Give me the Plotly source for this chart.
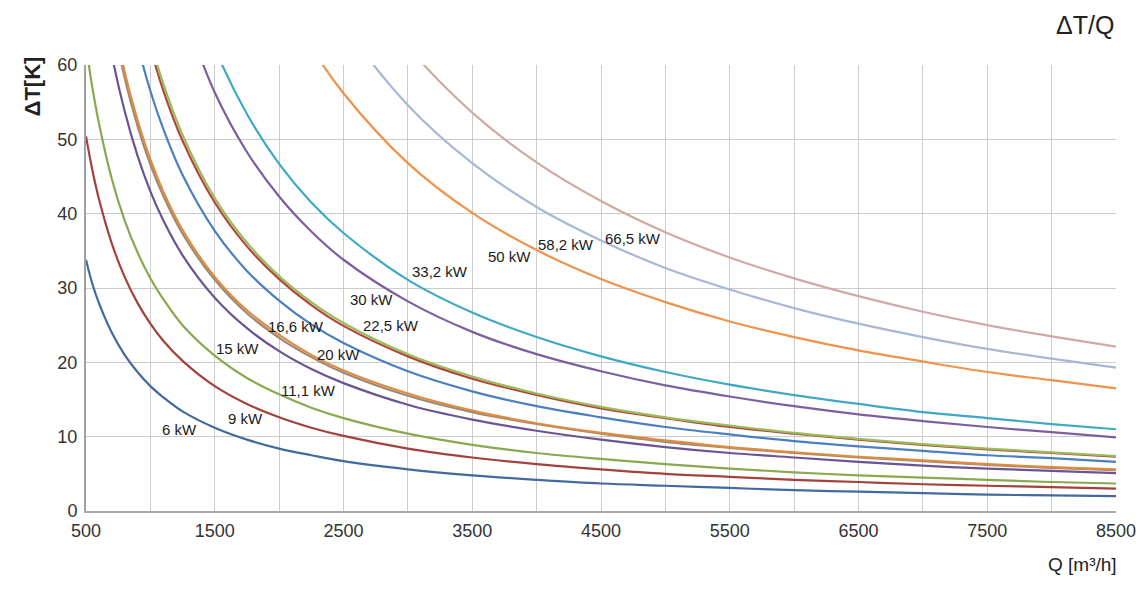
import plotly.graph_objects as go

q = [500, 550, 600, 700, 800, 900, 1000, 1100, 1250, 1500, 1750, 2000, 2250,
     2500, 3000, 3500, 4000, 4500, 5000, 5500, 6000, 6500, 7000, 7500, 8000, 8500]

# temperature rise dT [K] per heater power, None = off the top of the chart
dt_6 = [33.8, 30.5, 28.0, 24.0, 21.0, 18.7, 16.8, 15.3, 13.4, 11.2, 9.6, 8.4, 7.5,
        6.7, 5.6, 4.8, 4.2, 3.7, 3.4, 3.1, 2.8, 2.6, 2.4, 2.2, 2.1, 2.0]
dt_9 = [50.4, 45.8, 42.0, 36.0, 31.5, 28.0, 25.2, 22.9, 20.2, 16.8, 14.4, 12.6, 11.2,
        10.1, 8.4, 7.2, 6.3, 5.6, 5.0, 4.6, 4.2, 3.9, 3.6, 3.4, 3.2, 3.0]
dt_11 = [62.6, 56.9, 52.2, 44.7, 39.1, 34.8, 31.3, 28.5, 25.0, 20.9, 17.9, 15.7, 13.9,
         12.5, 10.4, 8.9, 7.8, 7.0, 6.3, 5.7, 5.2, 4.8, 4.5, 4.2, 3.9, 3.7]
dt_15 = [None, None, 71.7, 61.4, 53.8, 47.8, 43.0, 39.1, 34.4, 28.7, 24.6, 21.5, 19.1,
         17.2, 14.3, 12.3, 10.8, 9.6, 8.6, 7.8, 7.2, 6.6, 6.1, 5.7, 5.4, 5.1]
dt_16b = [None, None, None, 66.6, 58.3, 51.8, 46.6, 42.4, 37.3, 31.1, 26.6, 23.3, 20.7,
          18.6, 15.5, 13.3, 11.7, 10.4, 9.3, 8.5, 7.8, 7.2, 6.7, 6.2, 5.8, 5.5]
dt_16 = [None, None, None, 67.6, 59.1, 52.6, 47.3, 43.0, 37.8, 31.5, 27.0, 23.7, 21.0,
         18.9, 15.8, 13.5, 11.8, 10.5, 9.5, 8.6, 7.9, 7.3, 6.8, 6.3, 5.9, 5.6]
dt_20 = [None, None, None, None, 70.6, 62.8, 56.5, 51.4, 45.2, 37.7, 32.3, 28.3, 25.1,
         22.6, 18.8, 16.1, 14.1, 12.6, 11.3, 10.3, 9.4, 8.7, 8.1, 7.5, 7.1, 6.6]
dt_22b = [None, None, None, None, None, 69.2, 62.3, 56.6, 49.8, 41.5, 35.6, 31.2, 27.7,
          24.9, 20.8, 17.8, 15.6, 13.8, 12.5, 11.3, 10.4, 9.6, 8.9, 8.3, 7.8, 7.3]
dt_22 = [None, None, None, None, None, 70.2, 63.2, 57.5, 50.6, 42.1, 36.1, 31.6, 28.1,
         25.3, 21.1, 18.1, 15.8, 14.0, 12.6, 11.5, 10.5, 9.7, 9.0, 8.4, 7.9, 7.4]
dt_30 = [None, None, None, None, None, None, None, None, 67.6, 56.3, 48.3, 42.3, 37.6,
         33.8, 28.2, 24.1, 21.1, 18.8, 16.9, 15.4, 14.1, 13.0, 12.1, 11.3, 10.6, 9.9]
dt_33 = [None, None, None, None, None, None, None, None, 74.7, 62.3, 53.4, 46.7, 41.5,
         37.4, 31.1, 26.7, 23.4, 20.8, 18.7, 17.0, 15.6, 14.4, 13.3, 12.5, 11.7, 11.0]
dt_50 = [None, None, None, None, None, None, None, None, None, None, None, 70.3, 62.4,
         56.2, 46.8, 40.1, 35.1, 31.2, 28.1, 25.5, 23.4, 21.6, 20.1, 18.7, 17.6, 16.5]
dt_58 = [None, None, None, None, None, None, None, None, None, None, None, None, 72.8,
         65.5, 54.6, 46.8, 40.9, 36.4, 32.7, 29.8, 27.3, 25.2, 23.4, 21.8, 20.5, 19.3]
dt_66 = [None, None, None, None, None, None, None, None, None, None, None, None, 83.4,
         75.0, 62.5, 53.6, 46.9, 41.7, 37.5, 34.1, 31.3, 28.9, 26.8, 25.0, 23.5, 22.1]

# curve labels and where they sit on the chart
labels = ['6 kW', '9 kW', '11,1 kW', '15 kW', '16,6 kW', '20 kW', '22,5 kW',
          '30 kW', '33,2 kW', '50 kW', '58,2 kW', '66,5 kW']
label_q = [1230, 1740, 2230, 1680, 2130, 2460, 2870, 2720, 3250, 3790, 4230, 4750]
label_dt = [11.0, 12.5, 16.2, 21.8, 24.8, 21.0, 25.0, 28.4, 32.2, 34.3, 35.9, 36.7]

x_ticks = [500, 1000, 1500, 2000, 2500, 3000, 3500, 4000, 4500, 5000, 5500,
           6000, 6500, 7000, 7500, 8000, 8500]
x_ticktext = ['500', '', '1500', '', '2500', '', '3500', '', '4500', '', '5500',
              '', '6500', '', '7500', '', '8500']

curves = [
    (dt_6, '#436a9e'),
    (dt_9, '#a3423c'),
    (dt_11, '#8aa84f'),
    (dt_15, '#6a5492'),
    (dt_16b, '#9a8a78'),
    (dt_16, '#e08a40'),
    (dt_20, '#4b7fbf'),
    (dt_22b, '#b0463f'),
    (dt_22, '#9bbb59'),
    (dt_30, '#7d5fa0'),
    (dt_33, '#3fa9c4'),
    (dt_50, '#f0924a'),
    (dt_58, '#a8b7d4'),
    (dt_66, '#d2a8a6'),
]

fig = go.Figure()
for vals, col in curves:
    fig.add_trace(go.Scatter(x=q, y=vals, mode='lines',
                             line=dict(color=col, width=2.2, shape='spline'),
                             showlegend=False, hoverinfo='skip'))

for txt, lx, ly in zip(labels, label_q, label_dt):
    fig.add_annotation(x=lx, y=ly, text=txt, showarrow=False,
                       font=dict(size=15, color='#1a1a1a'))

# axis titles sit in the corners, not centered
fig.add_annotation(xref='paper', yref='paper', x=-0.0524, y=0.952,
                   xanchor='center', yanchor='middle',
                   text='<b>ΔT[K]</b>', textangle=-90, showarrow=False,
                   font=dict(size=22, color='#222222'))
fig.add_annotation(xref='paper', yref='paper', x=1.0, y=-0.119,
                   xanchor='right', yanchor='middle', xshift=3,
                   text='Q [m³/h]', showarrow=False,
                   font=dict(size=19, color='#222222'))
fig.add_annotation(xref='paper', yref='paper', x=1.0, y=1.09,
                   xanchor='right', yanchor='middle',
                   text='ΔT/Q', showarrow=False,
                   font=dict(size=25, color='#222222'))

fig.update_xaxes(range=[500, 8500], tickmode='array', tickvals=x_ticks,
                 ticktext=x_ticktext, showgrid=True, gridcolor='#cccccc',
                 gridwidth=1, zeroline=False, showline=True, linecolor='#aaaaaa',
                 linewidth=1.5, ticks='', ticklabelstandoff=3,
                 tickfont=dict(size=18, color='#333333'))
fig.update_yaxes(range=[0, 60], dtick=10, showgrid=True, gridcolor='#cccccc',
                 gridwidth=1, zeroline=False, showline=True, linecolor='#a0a0a0',
                 linewidth=2, ticks='', ticklabelstandoff=3,
                 tickfont=dict(size=18, color='#333333'))

# the page body adds 8px, so the figure is a bit smaller than the window
fig.update_layout(width=1139, height=583,
                  margin=dict(l=78, r=31, t=57, b=80),
                  plot_bgcolor='white', paper_bgcolor='white',
                  font=dict(family='Liberation Sans, Arial, sans-serif'))

fig.write_html('out.html')
